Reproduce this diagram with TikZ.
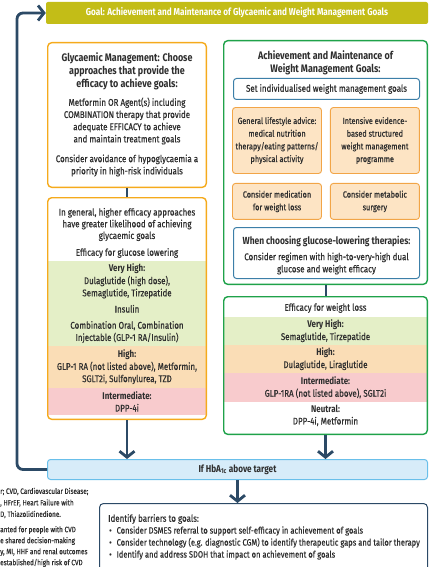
\documentclass[tikz,border=0pt]{standalone}
\usepackage{fontspec}
\setmainfont{Fira Sans}[FakeStretch=0.82,UprightFeatures={FakeBold=0.5}]
\usetikzlibrary{arrows.meta,positioning}

\definecolor{goalolive}{HTML}{C3BD17}
\definecolor{glycorange}{HTML}{F5AA1C}
\definecolor{weightgreen}{HTML}{1FA24A}
\definecolor{bandgreen}{HTML}{E4EFC7}
\definecolor{bandorange}{HTML}{FADDB6}
\definecolor{bandpink}{HTML}{F8CBCD}
\definecolor{optionfill}{HTML}{FDE4C4}
\definecolor{optionline}{HTML}{F2A547}
\definecolor{setblue}{HTML}{3C7FA8}
\definecolor{hbafill}{HTML}{D7ECF9}
\definecolor{hbaline}{HTML}{69BFEA}
\definecolor{linknavy}{HTML}{2C4A66}
\definecolor{bodygrey}{HTML}{2E2E2E}

\newcommand{\bodysize}{\fontsize{9.7}{12.2}\selectfont}
\newcommand{\titlesize}{\fontsize{10.9}{13}\selectfont}

\begin{document}
\begin{tikzpicture}[x=1pt,y=-1pt,>={Straight Barb[length=6pt,width=15pt]},
  body text/.style={align=center,text=bodygrey,inner sep=0pt,font=\bodysize},
  title text/.style={align=center,text=bodygrey,inner sep=0pt,font=\titlesize\bfseries},
  goal bar/.style={fill=goalolive,rounded corners=2pt,minimum width=382pt,minimum height=22pt,text=white,font=\fontsize{10}{11}\selectfont\bfseries},
  orange frame/.style={draw=glycorange,line width=1.4pt,rounded corners=4pt,minimum width=158.6pt},
  green frame/.style={draw=weightgreen,line width=1.4pt,rounded corners=4pt,minimum width=203.6pt},
  band/.style={body text,minimum height=#1},
  set box/.style={body text,draw=setblue,line width=1pt,rounded corners=3pt,minimum width=186pt,minimum height=21pt},
  option box/.style={body text,font=\fontsize{8.9}{12.7}\selectfont,draw=optionline,fill=optionfill,line width=0.9pt,rounded corners=3pt,minimum width=89pt},
  hba box/.style={body text,font=\fontsize{10}{12}\selectfont\bfseries,draw=hbaline,fill=hbafill,line width=1pt,rounded corners=3pt,minimum width=380pt,minimum height=20pt},
  barrier box/.style={draw=linknavy,line width=1pt,rounded corners=4pt,minimum width=328pt,minimum height=86pt},
  note text/.style={align=left,text=bodygrey,inner sep=0pt,anchor=west,font=\fontsize{7.8}{11.5}\selectfont},
  link/.style={draw=linknavy,line width=2pt},
  link arrow/.style={->,draw=linknavy,line width=2.8pt}]
\clip (0,0) rectangle (429,567);

\node[goal bar] (goal) at (237,13) {Goal: Achievement and Maintenance of Glycaemic and Weight Management Goals};

% glycaemic management
\node[orange frame,minimum height=144.6pt] (glyc) at (127,115) {};
\node[title text] (glyc title) at (127,71) {Glycaemic Management: Choose\\approaches that provide the\\efficacy to achieve goals:};
\node[body text] (glyc agents) at (127,121) {Metformin OR Agent(s) including\\COMBINATION therapy that provide\\adequate EFFICACY to achieve\\and maintain treatment goals};
\node[body text] (glyc hypo) at (127,165.5) {Consider avoidance of hypoglycaemia a\\priority in high-risk individuals};

\node[band=85pt,fill=bandgreen,minimum width=157.2pt] (glucose very high) at (127,303.5) {\textbf{Very High:}\\Dulaglutide (high dose),\\Semaglutide, Tirzepatide\\[4pt]Insulin\\[4pt]Combination Oral, Combination\\Injectable (GLP-1 RA/Insulin)};
\node[band=42pt,fill=bandorange,minimum width=157.2pt] (glucose high) at (127,367) {\textbf{High:}\\GLP-1 RA (not listed above), Metformin,\\SGLT2i, Sulfonylurea, TZD};
\node[band=27pt,fill=bandpink,minimum width=157.2pt] (glucose intermediate) at (127,401.5) {\textbf{Intermediate:}\\DPP-4i};
\node[orange frame,minimum height=221.6pt] (eff) at (127,308.5) {};
\node[body text,font=\fontsize{9.7}{11.7}\selectfont] (eff intro) at (127,224.5) {In general, higher efficacy approaches\\have greater likelihood of achieving\\glycaemic goals};
\node[body text] (eff heading) at (127,253) {Efficacy for glucose lowering};

% weight management
\node[green frame,minimum height=243.6pt] (weight) at (325.5,162.5) {};
\node[title text] (weight title) at (325.5,63) {Achievement and Maintenance of\\Weight Management Goals:};
\node[set box] (set goals) at (326.5,89) {Set individualised weight management goals};
\node[option box,minimum height=66pt] (lifestyle) at (277,140.5) {General lifestyle advice:\\medical nutrition\\therapy/eating patterns/\\physical activity};
\node[option box,minimum height=66pt,right=8pt of lifestyle] (intensive) {Intensive evidence-\\based structured\\weight management\\programme};
\node[option box,minimum height=36pt,below=9pt of lifestyle] (medication) {Consider medication\\for weight loss};
\node[option box,minimum height=36pt,below=9pt of intensive] (surgery) {Consider metabolic\\surgery};
\node[set box,minimum height=51pt] (choosing) at (326.5,253) {};
\node[body text,font=\fontsize{10.3}{12}\selectfont\bfseries] (choosing title) at (326.5,241) {When choosing glucose-lowering therapies:};
\node[body text] (choosing text) at (326.5,263.5) {Consider regimen with high-to-very-high dual\\glucose and weight efficacy};

\node[band=28pt,fill=bandgreen,minimum width=202.2pt] (weight very high) at (325.5,331) {\textbf{Very High:}\\Semaglutide, Tirzepatide};
\node[band=28pt,fill=bandorange,minimum width=202.2pt] (weight high) at (325.5,359) {\textbf{High:}\\Dulaglutide, Liraglutide};
\node[band=29pt,fill=bandpink,minimum width=202.2pt] (weight intermediate) at (325.5,387.5) {\textbf{Intermediate:}\\GLP-1RA (not listed above), SGLT2i};
\node[green frame,minimum height=137.6pt] (wl) at (325.5,365.5) {};
\node[body text] (wl heading) at (325.5,308) {Efficacy for weight loss};
\node[body text] (weight neutral) at (325.5,415.5) {\textbf{Neutral:}\\DPP-4i, Metformin};

% hba1c and barriers
\node[hba box] (hba) at (237.5,469.5) {If HbA\textsubscript{1c} above target};
\node[barrier box] (barriers) at (263.5,546.5) {};
\node[body text,anchor=west] (barrier title) at (108,519) {Identify barriers to goals:};
\node[body text,align=left,anchor=west,font=\fontsize{9.2}{12}\selectfont] (barrier list) at (109,543) {\textbullet\hspace{5pt}Consider DSMES referral to support self-efficacy in achievement of goals\\\textbullet\hspace{5pt}Consider technology (e.g. diagnostic CGM) to identify therapeutic gaps and tailor therapy\\\textbullet\hspace{5pt}Identify and address SDOH that impact on achievement of goals};

% notes cut by the page edge
\node[note text] (abbrev) at (0,503) {r; CVD, Cardiovascular Disease;\\, HFrEF, Heart Failure with\\D, Thiazolidinedione.};
\node[note text,font=\fontsize{7.8}{11}\selectfont] (cvd note) at (0,546.5) {anted for people with CVD\\e shared decision-making\\y, MI, HHF and renal outcomes\\established/high risk of CVD};

% connectors
\draw[link] (glyc) -- (eff);
\draw[link] (weight) -- (wl);
\draw[link arrow] (eff.south) -- (eff.south |- hba.north);
\draw[link arrow] (wl.south) -- (wl.south |- hba.north);
\draw[link arrow] (hba.south) -- (hba.south |- barriers.north);
\draw[link arrow,rounded corners=6pt] (hba.west) -- ++(-30,0) |- (goal.west);
\end{tikzpicture}
\end{document}
